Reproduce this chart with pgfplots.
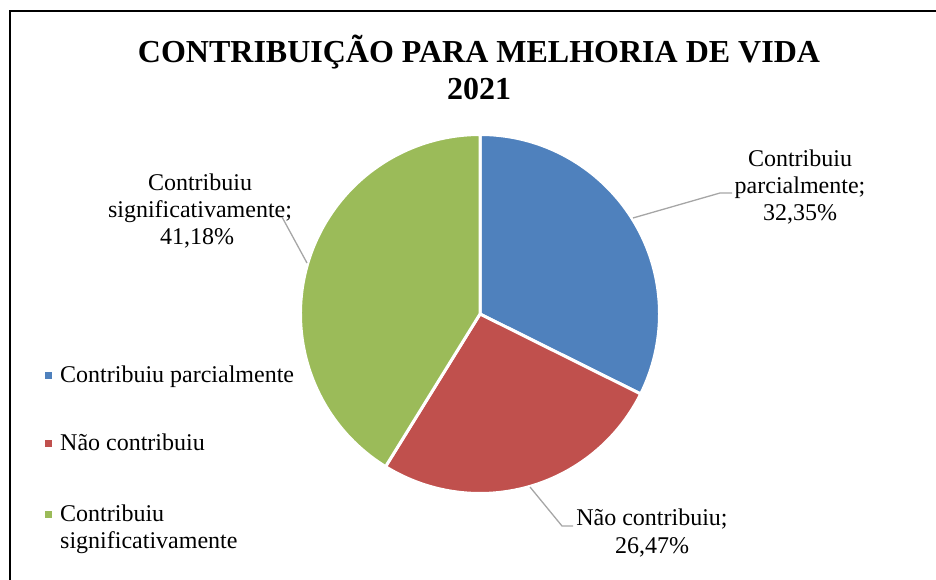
\documentclass[border=0pt]{standalone}
\usepackage{fontspec}
\setmainfont{Liberation Serif}
\usepackage{pgfplots}
\pgfplotsset{compat=1.18}
\usepackage{pgfplotstable}

\definecolor{pblue}{HTML}{4F81BD}
\definecolor{pred}{HTML}{C0504D}
\definecolor{pgreen}{HTML}{9BBB59}
\definecolor{lead}{HTML}{A6A6A6}

% shares in percent, in the order of the legend
\pgfplotstableread{
label pct
parcial 32.35
nao 26.47
signif 41.18
}\pietable
\pgfplotstablegetelem{0}{pct}\of\pietable \let\pa\pgfplotsretval
\pgfplotstablegetelem{1}{pct}\of\pietable \let\pb\pgfplotsretval
\pgfmathsetmacro\angA{90-3.6*\pa}
\pgfmathsetmacro\angB{\angA-3.6*\pb}

\begin{document}
\begin{tikzpicture}[
  lbl/.style={font=\fontsize{24}{28}\selectfont},
  ttl/.style={font=\bfseries\fontsize{32}{38}\selectfont},
]
\begin{axis}[
  at={(0,0)}, anchor=south west,
  width=936pt, height=580pt, scale only axis,
  xmin=0, xmax=936, ymin=0, ymax=580,
  hide axis, clip=false,
]
\coordinate (bl) at (axis cs:0,0);
\coordinate (tr) at (axis cs:936,580);
% slices, clockwise from 12 o'clock
\fill[pblue, draw=white, line width=3pt] (axis cs:480,266) -- ++(90:179.5pt)
  arc[start angle=90, end angle=\angA, radius=179.5pt] -- cycle;
\fill[pred, draw=white, line width=3pt] (axis cs:480,266) -- ++(\angA:179.5pt)
  arc[start angle=\angA, end angle=\angB, radius=179.5pt] -- cycle;
\fill[pgreen, draw=white, line width=3pt] (axis cs:480,266) -- ++(\angB:179.5pt)
  arc[start angle=\angB, end angle=-270, radius=179.5pt] -- cycle;

% leader lines
\draw[lead, line width=1.3pt] (axis cs:633,362) -- (axis cs:720,387) -- (axis cs:732,387);
\draw[lead, line width=1.3pt] (axis cs:307,317) -- (axis cs:282,363);
\draw[lead, line width=1.3pt] (axis cs:530,93) -- (axis cs:562,54) -- (axis cs:573,54);

% data labels
\node[lbl, anchor=base] at (axis cs:800,413) {Contribuiu};
\node[lbl, anchor=base] at (axis cs:800,386) {parcialmente;};
\node[lbl, anchor=base] at (axis cs:800,359) {32,35\%};
\node[lbl, anchor=base] at (axis cs:200,389) {Contribuiu};
\node[lbl, anchor=base] at (axis cs:200,362) {significativamente;};
\node[lbl, anchor=base] at (axis cs:197,335) {41,18\%};
\node[lbl, anchor=base] at (axis cs:652,54) {Não contribuiu;};
\node[lbl, anchor=base] at (axis cs:652,26) {26,47\%};

% legend
\fill[pblue] (axis cs:45,200.5) rectangle (axis cs:52,207.5);
\fill[pred] (axis cs:45,132.5) rectangle (axis cs:52,139.5);
\fill[pgreen] (axis cs:45,61.5) rectangle (axis cs:52,68.5);
\node[lbl, anchor=base west, inner xsep=0pt] at (axis cs:60,197) {Contribuiu parcialmente};
\node[lbl, anchor=base west, inner xsep=0pt] at (axis cs:60,129) {Não contribuiu};
\node[lbl, anchor=base west, inner xsep=0pt] at (axis cs:60,58) {Contribuiu};
\node[lbl, anchor=base west, inner xsep=0pt] at (axis cs:60,31) {significativamente};

% title
\node[ttl, anchor=base] at (axis cs:479,517) {CONTRIBUIÇÃO PARA MELHORIA DE VIDA};
\node[ttl, anchor=base] at (axis cs:479,480) {2021};

% chart frame (its right and bottom sides lie outside the picture)
\draw[black, line width=2pt] (axis cs:9.5,-10) -- (axis cs:9.5,568.5)
  -- (axis cs:945,568.5);
\end{axis}
\pgfresetboundingbox
\path[use as bounding box] (bl) rectangle (tr);
\end{tikzpicture}
\end{document}
